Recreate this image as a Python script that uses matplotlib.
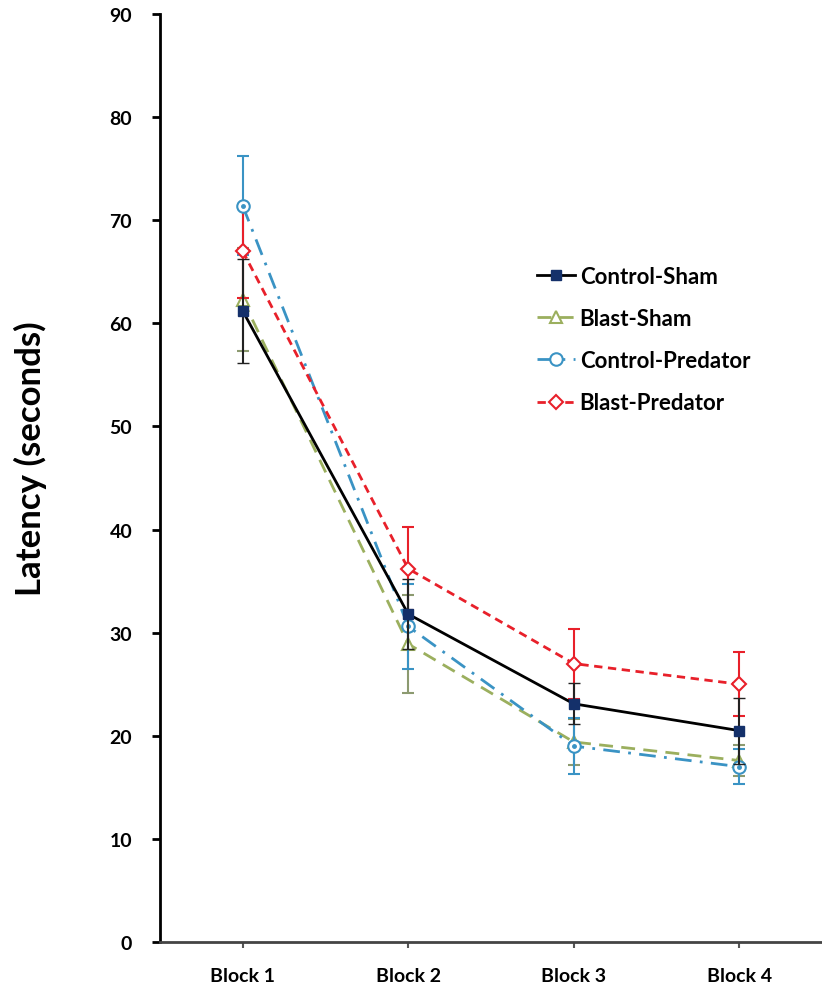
import numpy as np
import matplotlib.pyplot as plt
from matplotlib.lines import Line2D

blocks = ['Block 1', 'Block 2', 'Block 3', 'Block 4']

control_sham = [61.2, 31.8, 23.1, 20.5]
control_sham_err = [5.0, 3.4, 2.0, 3.2]
blast_sham = [62.3, 28.9, 19.4, 17.6]
blast_sham_err = [5.0, 4.8, 2.2, 1.5]
control_predator = [71.4, 30.6, 19.0, 17.0]
control_predator_err = [4.8, 4.1, 2.7, 1.7]
blast_predator = [67.0, 36.2, 27.0, 25.0]
blast_predator_err = [4.5, 4.0, 3.4, 3.1]

plt.rcParams['font.family'] = ['Lato', 'DejaVu Sans']
plt.rcParams['font.weight'] = 'bold'

fig = plt.figure(figsize=(8.22, 9.87), dpi=100)
ax = fig.add_axes([0.1946, 0.0446, 0.8054, 0.9402])
x = np.arange(len(blocks))

styles = {
    'Blast-Sham': dict(color='#9BAF5E', ls=(0, (5, 3)), marker='^', ms=8, mfc='white',
                       mec='#9BAF5E', mew=1.5),
    'Control-Predator': dict(color='#3A93C4', ls=(0, (6, 3, 1, 3)), marker='o', ms=9, mfc='white',
                             mec='#3A93C4', mew=1.5),
    'Blast-Predator': dict(color='#E8202A', ls=(0, (3, 2)), marker='D', ms=7, mfc='white',
                           mec='#E8202A', mew=1.5),
    'Control-Sham': dict(color='black', ls='-', marker='s', ms=7, mfc='#14306A', mec='#14306A'),
}

ax.errorbar(x, blast_sham, yerr=blast_sham_err, lw=2, ecolor='#8C9A70', elinewidth=1.5,
            capsize=4, zorder=2, **styles['Blast-Sham'])
ax.errorbar(x, control_predator, yerr=control_predator_err, lw=2, ecolor='#3A93C4', elinewidth=1.5,
            capsize=4, zorder=3, **styles['Control-Predator'])
ax.plot(x, control_predator, ls='none', marker='o', ms=2.5, color='#3A93C4', zorder=4)
ax.errorbar(x, blast_predator, yerr=blast_predator_err, lw=2, ecolor='#E8202A', elinewidth=1.5,
            capsize=4, zorder=3, **styles['Blast-Predator'])
ax.errorbar(x, control_sham, yerr=control_sham_err, lw=2, ecolor='#222222', elinewidth=1.5,
            capsize=4, zorder=5, **styles['Control-Sham'])

ax.set_xlim(-0.5, 3.5)
ax.set_ylim(0, 90)
ax.set_yticks(np.arange(0, 91, 10))
ax.set_xticks(x)
ax.set_xticklabels(blocks, fontsize=14, fontweight='bold')
ax.tick_params(axis='y', labelsize=14, length=6, width=2, pad=14)
ax.tick_params(axis='x', length=4, width=1.5, color='#555555', pad=14)
for lab in ax.get_yticklabels():
    lab.set_fontweight('bold')
ax.spines['top'].set_visible(False)
ax.spines['right'].set_visible(False)
ax.spines['left'].set_linewidth(2)
ax.spines['bottom'].set_linewidth(2)
ax.spines['bottom'].set_color('#444444')

fig.text(0.037, 0.535, 'Latency (seconds)', rotation=90, fontsize=25, fontweight='bold',
         ha='center', va='center')

names = ['Control-Sham', 'Blast-Sham', 'Control-Predator', 'Blast-Predator']
handles = [Line2D([], [], lw=2, **styles[n]) for n in names]
leg = ax.legend(handles, names, loc='upper left', bbox_to_anchor=(0.54, 0.75), frameon=False,
                fontsize=16, handlelength=1.7, labelspacing=0.95, handletextpad=0.2)
for t in leg.get_texts():
    t.set_fontweight('bold')

fig.savefig('out.png', dpi=100)
